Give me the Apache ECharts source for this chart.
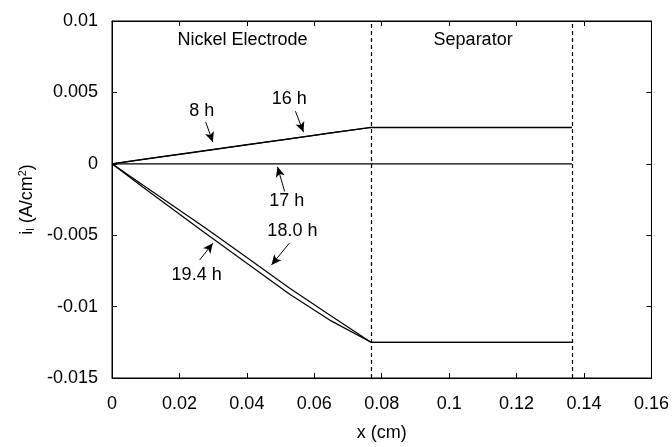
<!DOCTYPE html>
<html>
<head>
<meta charset="utf-8">
<script src="https://cdn.jsdelivr.net/npm/echarts@6/dist/echarts.min.js"></script>
<style>
  html, body { margin: 0; padding: 0; background: #fff; }
  #chart { width: 672px; height: 447px; }
</style>
</head>
<body>
<div id="chart"></div>
<script>
// x positions (cm) through the nickel electrode and separator
const xPos = [0, 0.01, 0.0275, 0.04, 0.0526, 0.065, 0.0768, 0.1364];

// i_l values (A/cm2) for each time
const i8h = [0, 0.00033, 0.00091, 0.00133, 0.00174, 0.00216, 0.00255, 0.00255];
const i16h = [0, 0.00034, 0.00092, 0.00134, 0.00175, 0.00216, 0.00254, 0.00254];
const i17h = [0, 0, 0, 0, 0, 0, 0, 0];
const i180h = [0, -0.00163, -0.00446, -0.00656, -0.0087, -0.01065, -0.0125, -0.0125];
const i194h = [0, -0.00178, -0.00483, -0.00697, -0.00912, -0.011, -0.0125, -0.0125];

// region boundaries
const boundaries = [0.0768, 0.1364];

// labels: [text, x, y] and arrows: [x0, y0, x1, y1]
const regionLabels = [
  ['Nickel Electrode', 0.0387, 0.00868],
  ['Separator', 0.1071, 0.00868]
];
const timeLabels = [
  ['8 h', 0.0266, 0.00368],
  ['16 h', 0.0526, 0.00451],
  ['17 h', 0.0518, -0.00264],
  ['18.0 h', 0.0535, -0.00472],
  ['19.4 h', 0.0251, -0.00778]
];
const arrows = [
  [0.0278, 0.00292, 0.0299, 0.00153],
  [0.0544, 0.00368, 0.0568, 0.00222],
  [0.0512, -0.00194, 0.0491, -0.00021],
  [0.0526, -0.00556, 0.0473, -0.00708],
  [0.0260, -0.00674, 0.0299, -0.00556]
];

const font = "'Liberation Sans', Arial, sans-serif";
const zip = (ys) => xPos.map((x, k) => [x, ys[k]]);

const lineSeries = (name, ys) => ({
  name: name,
  type: 'line',
  data: zip(ys),
  showSymbol: false,
  symbol: 'none',
  lineStyle: { color: '#000', width: 1.2 },
  z: 3
});

// fresh axis styling for every axis
const axisStyle = (extra) => Object.assign({
  type: 'value',
  axisLine: { show: true, onZero: false, lineStyle: { color: '#000', width: 1 } },
  axisTick: { show: true, inside: true, length: 5, lineStyle: { color: '#000', width: 1 } },
  splitLine: { show: false }
}, extra);

const chart = echarts.init(document.getElementById('chart'));

const option = {
  animation: false,
  backgroundColor: '#fff',
  grid: { left: 112, right: 19, top: 21, bottom: 66, show: true, borderColor: '#000', borderWidth: 1 },
  xAxis: [
    axisStyle({
      min: 0, max: 0.16, interval: 0.02,
      name: 'x (cm)', nameLocation: 'middle', nameGap: 46,
      nameTextStyle: { fontFamily: font, fontSize: 18, color: '#000' },
      axisLabel: { margin: 17, fontFamily: font, fontSize: 18, color: '#000' }
    }),
    axisStyle({
      min: 0, max: 0.16, interval: 0.02, position: 'top',
      axisLabel: { show: false }
    })
  ],
  yAxis: [
    axisStyle({
      min: -0.015, max: 0.01, interval: 0.005,
      name: 'i{sub|l} (A/cm{sup|2})', nameLocation: 'middle', nameGap: 74, nameRotate: 90,
      nameTextStyle: {
        fontFamily: font, fontSize: 18, color: '#000',
        rich: {
          sub: { fontFamily: font, fontSize: 11, color: '#000', verticalAlign: 'bottom', padding: [6, 0, 0, 0] },
          sup: { fontFamily: font, fontSize: 11, color: '#000', verticalAlign: 'top', padding: [0, 0, 8, 0] }
        }
      },
      axisLabel: { margin: 14, fontFamily: font, fontSize: 18, color: '#000' }
    }),
    axisStyle({
      min: -0.015, max: 0.01, interval: 0.005, position: 'right',
      axisLabel: { show: false }
    })
  ],
  series: [
    lineSeries('8 h', i8h),
    lineSeries('16 h', i16h),
    Object.assign(lineSeries('17 h', i17h), {
      markLine: {
        silent: true,
        symbol: 'none',
        label: { show: false },
        lineStyle: { color: '#000', type: [4, 3], width: 1.2 },
        data: boundaries.map(b => [{ coord: [b, -0.015] }, { coord: [b, 0.01] }])
      },
      markPoint: {
        silent: true,
        symbol: 'circle',
        symbolSize: 1,
        itemStyle: { color: 'rgba(0,0,0,0)' },
        label: {
          show: true, position: 'inside', color: '#000',
          fontFamily: font, fontSize: 18
        },
        data: regionLabels.concat(timeLabels).map(t => ({
          coord: [t[1], t[2]], value: t[0],
          label: { formatter: t[0] }
        }))
      }
    }),
    lineSeries('18.0 h', i180h),
    Object.assign(lineSeries('19.4 h', i194h), {
      markLine: {
        silent: true,
        symbol: ['none', 'arrow'],
        symbolSize: [7, 10],
        label: { show: false },
        lineStyle: { color: '#000', type: 'solid', width: 1 },
        data: arrows.map(a => [{ coord: [a[0], a[1]] }, { coord: [a[2], a[3]] }])
      }
    })
  ]
};

chart.setOption(option);
</script>
</body>
</html>
